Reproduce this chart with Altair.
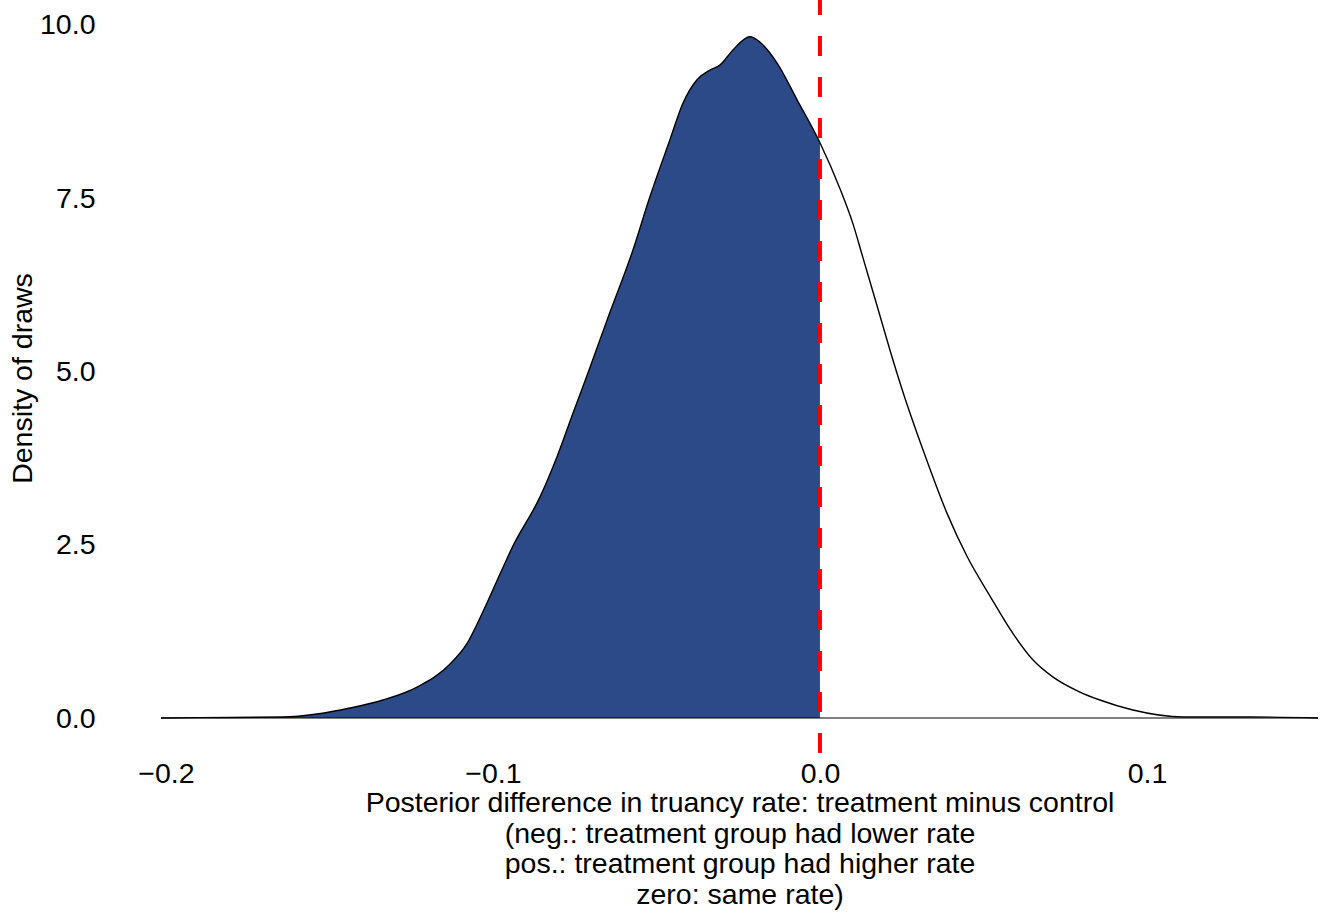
import altair as alt
import pandas as pd

# Posterior density of the treatment-minus-control difference
diff_x = [-0.2015, -0.1896, -0.1642, -0.1538, -0.1437, -0.1336, -0.1232, -0.1131,
          -0.1080, -0.1031, -0.0979, -0.0939, -0.0856, -0.0804, -0.0755, -0.0703,
          -0.0651, -0.0572, -0.0520, -0.0459, -0.0419, -0.0376, -0.0336, -0.0306,
          -0.0266, -0.0214, -0.0183, -0.0131, -0.0070, 0.0, 0.0061, 0.0101,
          0.0131, 0.0174, 0.0214, 0.0254, 0.0315, 0.0388, 0.0450, 0.0520,
          0.0590, 0.0651, 0.0713, 0.0795, 0.0856, 0.0957, 0.1110, 0.1315, 0.1523]
density = [0.0, 0.005, 0.014, 0.058, 0.144, 0.26, 0.447, 0.78,
           1.07, 1.53, 2.07, 2.48, 3.19, 3.77, 4.40, 5.06,
           5.74, 6.75, 7.52, 8.34, 8.87, 9.21, 9.35, 9.42,
           9.64, 9.83, 9.75, 9.45, 8.92, 8.30, 7.64, 7.13,
           6.65, 5.96, 5.31, 4.70, 3.87, 2.96, 2.33, 1.76,
           1.22, 0.84, 0.59, 0.375, 0.26, 0.115, 0.014, 0.015, 0.0]

y_ticks = [0.0, 2.5, 5.0, 7.5, 10.0]
x_ticks = [-0.2, -0.1, 0.0, 0.1]
x_title = ["Posterior difference in truancy rate: treatment minus control",
           "(neg.: treatment group had lower rate",
           "pos.: treatment group had higher rate",
           "zero: same rate)"]

df = pd.DataFrame({"x": diff_x, "y": density})
neg = df[df["x"] <= 0]

FONT = "Liberation Sans"
FS = 28.5
x_dom = [-0.2015, 0.1523]
y_dom = [-0.505, 10.36]

xs = alt.Scale(domain=x_dom, nice=False, zero=False)
ys = alt.Scale(domain=y_dom, nice=False, zero=False)

x_axis = alt.Axis(values=x_ticks, format=".1f", title=x_title, ticks=False,
                  domain=False, grid=False, labelPadding=6, titlePadding=1,
                  labelFontSize=FS, titleFontSize=FS, titleLineHeight=30.7,
                  labelFont=FONT, titleFont=FONT, labelColor="black",
                  titleColor="black", titleFontWeight="normal", labelFlush=False)
y_axis = alt.Axis(values=y_ticks, format=".1f", title="Density of draws", ticks=False,
                  domain=False, grid=False, labelPadding=66, labelFontSize=FS,
                  titleFontSize=FS, labelFont=FONT, titleFont=FONT,
                  labelColor="black", titleColor="black", titleFontWeight="normal",
                  titleX=-139, titleY=378, titleAngle=270, titleBaseline="middle",
                  labelFlush=False)

base = alt.Chart(df)

fill = alt.Chart(neg).mark_area(color="#2C4A87", interpolate="monotone").encode(
    x=alt.X("x:Q", scale=xs, axis=x_axis),
    y=alt.Y("y:Q", scale=ys, axis=y_axis),
)

baseline = alt.Chart(pd.DataFrame({"x": [x_dom[0]], "x2": [x_dom[1]], "y": [0.0]})).mark_rule(
    color="black", strokeWidth=1.2).encode(
    x=alt.X("x:Q", scale=xs), x2="x2:Q", y=alt.Y("y:Q", scale=ys))

curve = base.mark_line(color="black", strokeWidth=1.4, interpolate="monotone").encode(
    x=alt.X("x:Q", scale=xs), y=alt.Y("y:Q", scale=ys))

zero_line = alt.Chart(pd.DataFrame({"x": [0.0], "y": [y_dom[0]], "y2": [y_dom[1]]})).mark_rule(
    color="#FF0000", strokeWidth=4, strokeDash=[20, 21]).encode(
    x=alt.X("x:Q", scale=xs), y=alt.Y("y:Q", scale=ys), y2="y2:Q")

chart = alt.layer(fill, baseline, curve, zero_line).properties(
    width=1157, height=753,
    background="white",
    padding={"left": 161, "top": 0, "right": 2, "bottom": 160},
    autosize=alt.AutoSizeParams(type="none"),
).configure_view(stroke="transparent", strokeWidth=0)

chart.save("out.html", embed_options={"renderer": "svg", "actions": False})
